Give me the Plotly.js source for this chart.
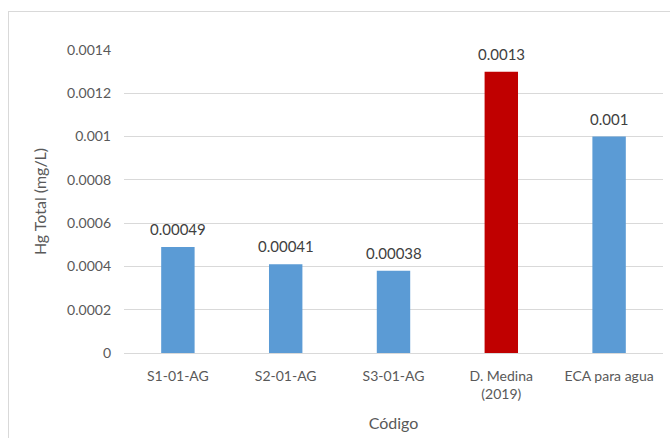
<!DOCTYPE html>
<html>
<head>
<meta charset="utf-8">
<script src="https://cdn.plot.ly/plotly-3.0.1.min.js"></script>
<style>
html,body{margin:0;padding:0;overflow:hidden;background:#fff;}
#wrap{position:relative;width:670px;height:438px;overflow:hidden;}
#chart{width:670px;height:438px;}
#frame{position:absolute;left:8px;top:11px;width:700px;height:500px;border:1px solid #d9d9d9;pointer-events:none;}
</style>
</head>
<body>
<div id="wrap"><div id="chart"></div><div id="frame"></div></div>
<script>
var categories = ["S1-01-AG", "S2-01-AG", "S3-01-AG", "D. Medina<br>(2019)", "ECA para agua"];
var values = [0.00049, 0.00041, 0.00038, 0.0013, 0.001];
var labels = ["0.00049", "0.00041", "0.00038", "0.0013", "0.001"];
var colors = ["#5B9BD5", "#5B9BD5", "#5B9BD5", "#C00000", "#5B9BD5"];
var tickVals = [0, 0.0002, 0.0004, 0.0006, 0.0008, 0.001, 0.0012, 0.0014];
var tickText = ["0", "0.0002", "0.0004", "0.0006", "0.0008", "0.001", "0.0012", "0.0014"];

var font = "Lato, 'Open Sans', sans-serif";
var trace = {
  type: "bar",
  x: categories,
  y: values,
  marker: {color: colors},
  hoverinfo: "none"
};
var annotations = categories.map(function (c, i) {
  return {
    x: c, y: values[i], xref: "x", yref: "y",
    text: labels[i], showarrow: false,
    yanchor: "bottom", yshift: 7,
    font: {family: font, size: 15, color: "#404040"}
  };
});
var layout = {
  width: 670, height: 438,
  margin: {l: 124, r: 7, t: 50, b: 85},
  paper_bgcolor: "#ffffff", plot_bgcolor: "#ffffff",
  showlegend: false,
  bargap: 0.69,
  font: {family: font, color: "#595959", size: 14},
  annotations: annotations,
  xaxis: {
    type: "category",
    showgrid: false,
    showline: true, linecolor: "#d9d9d9", linewidth: 1,
    ticks: "",
    ticklabelstandoff: 10,
    tickfont: {family: font, size: 14, color: "#595959"},
    title: {text: "Código", font: {family: font, size: 16, color: "#595959"}, standoff: 16},
    automargin: false
  },
  yaxis: {
    range: [0, 0.0014],
    tickvals: tickVals, ticktext: tickText,
    showgrid: true, gridcolor: "#d9d9d9", gridwidth: 1,
    zeroline: false, showline: false, ticks: "",
    ticklabelstandoff: 12,
    tickfont: {family: font, size: 14, color: "#595959"},
    title: {text: "Hg Total (mg/L)", font: {family: font, size: 16, color: "#595959"}, standoff: 16},
    automargin: false
  }
};
Plotly.newPlot("chart", [trace], layout, {displayModeBar: false, staticPlot: true});
</script>
</body>
</html>
